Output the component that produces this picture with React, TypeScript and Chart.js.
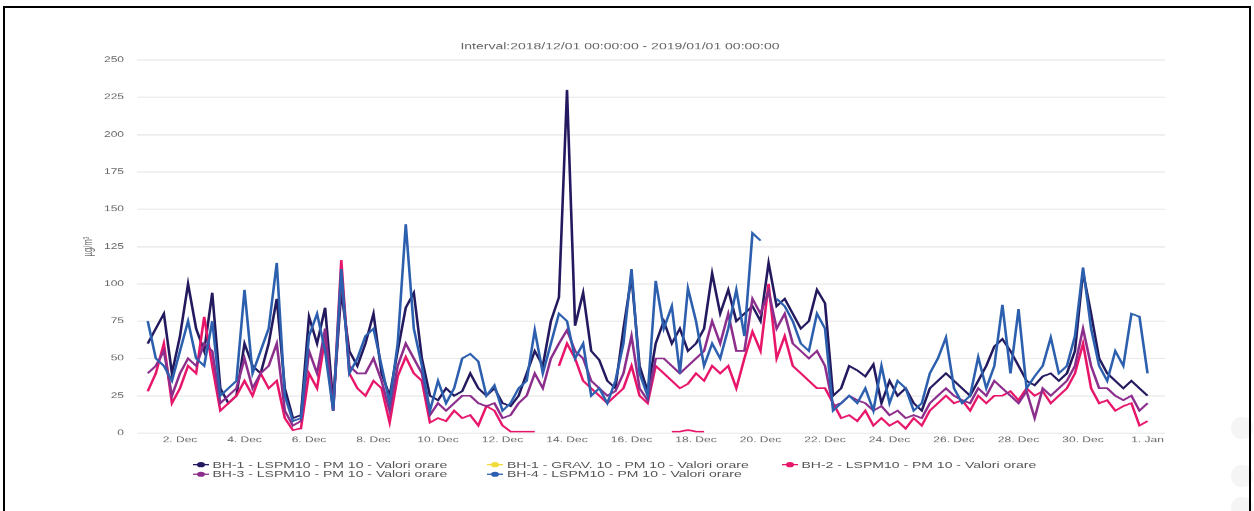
import React, { useEffect, useRef } from "react";
import { Chart, registerables } from "chart.js";

Chart.register(...registerables);

// ---- geometry of the (vertically squashed) picture ----
const SCALE_Y = 0.64;
const VW = 1254;
const VH = 798;

// ---- texts ----
const chartTitle = "Interval:2018/12/01 00:00:00 - 2019/01/01 00:00:00";
const yAxisTitle = "µg/m³";
const seriesNames = [
  "BH-1 - LSPM10 - PM 10 - Valori orare",
  "BH-1 - GRAV. 10 - PM 10 - Valori orare",
  "BH-2 - LSPM10 - PM 10 - Valori orare",
  "BH-3 - LSPM10 - PM 10 - Valori orare",
  "BH-4 - LSPM10 - PM 10 - Valori orare",
];
const seriesColors = ["#22195e", "#f0dc3a", "#e8166a", "#8c2e8c", "#2c5fae"];

// ---- x axis: hours since 2018-12-01 00:00, sampled every 6 hours ----
const hours = Array.from({ length: 125 }, (_, i) => i * 6);
const tickHours = [24, 72, 120, 168, 216, 264, 312, 360, 408, 456, 504, 552, 600, 648, 696, 744];
const tickLabels = [
  "2. Dec", "4. Dec", "6. Dec", "8. Dec", "10. Dec", "12. Dec", "14. Dec", "16. Dec",
  "18. Dec", "20. Dec", "22. Dec", "24. Dec", "26. Dec", "28. Dec", "30. Dec", "1. Jan",
];

// ---- series values (µg/m³) ----
const bh1 = [
  60, 70, 80, 40, 65, 100, 70, 55, 94, 30,
  20, 25, 60, 45, 40, 60, 90, 30, 10, 12,
  78, 60, 84, 20, 95, 55, 45, 60, 80, 40,
  25, 55, 84, 94, 50, 25, 22, 30, 25, 28,
  40, 30, 25, 30, 20, 18, 25, 40, 55, 45,
  75, 91, 230, 72, 94, 55, 49, 35, 30, 70,
  105, 45, 28, 60, 75, 60, 70, 55, 60, 70,
  107, 80, 96, 75, 80, 85, 75, 114, 85, 90,
  80, 70, 75, 96, 87, 25, 30, 45, 42, 38,
  46, 20, 35, 25, 30, 20, 15, 30, 35, 40,
  35, 30, 25, 35, 45, 58, 63, 55, 45, 35,
  32, 38, 40, 35, 40, 55, 108, 80, 50, 40,
  35, 30, 35, 30, 25,
];
const grav: (number | null)[] = [];
const bh2: (number | null)[] = [
  28, 40, 60, 20, 30, 45, 40, 78, 45, 15,
  20, 25, 35, 25, 40, 30, 35, 10, 2, 3,
  40, 30, 64, 15, 116, 40, 30, 25, 35, 30,
  7, 38, 51, 40, 35, 7, 10, 8, 15, 10,
  12, 5, 18, 15, 5, 1, 1, 1, 1, null,
  null, 45, 60, 50, 35, 30, 25, 20, 25, 30,
  45, 25, 20, 45, 40, 35, 30, 33, 40, 35,
  45, 40, 45, 30, 50, 68, 55, 100, 50, 65,
  45, 40, 35, 30, 30, 20, 10, 12, 8, 15,
  5, 10, 5, 8, 3, 10, 5, 15, 20, 25,
  20, 22, 15, 25, 20, 25, 25, 28, 22, 30,
  25, 28, 20, 25, 30, 40, 60, 30, 20, 22,
  15, 18, 20, 5, 8,
];
const bh2ExtraHours = [390, 396, 402, 408, 414];
const bh2ExtraValues = [1, 1, 2, 1, 1];
const bh3 = [
  40, 45, 55, 25, 40, 50, 45, 60, 55, 20,
  25, 30, 50, 30, 40, 45, 60, 15, 5, 8,
  55, 40, 70, 15, 105, 45, 40, 40, 50, 35,
  15, 45, 60, 50, 40, 12, 20, 15, 20, 25,
  25, 20, 18, 20, 10, 12, 20, 25, 40, 30,
  50, 60, 69, 55, 50, 35, 30, 25, 28, 40,
  65, 30, 22, 50, 50, 45, 40, 45, 50, 55,
  75, 60, 80, 55, 55, 90, 80, 95, 70, 80,
  60, 55, 50, 55, 45, 18, 20, 25, 22, 20,
  15, 18, 12, 15, 10, 12, 10, 20, 25, 30,
  25, 22, 20, 30, 25, 35, 30, 25, 20, 28,
  10, 30, 25, 30, 35, 45, 70, 45, 30, 30,
  25, 22, 25, 15, 20,
];
const bh4: (number | null)[] = [
  75, 50, 45, 35, 55, 75, 50, 45, 75, 25,
  30, 35, 96, 40, 55, 70, 114, 25, 8, 10,
  65, 80, 55, 15, 110, 40, 50, 65, 70, 45,
  20, 60, 140, 70, 45, 15, 35, 20, 30, 50,
  53, 48, 25, 32, 15, 20, 30, 35, 69, 40,
  60, 80, 75, 50, 60, 25, 30, 20, 35, 60,
  110, 40, 25, 102, 70, 85, 40, 97, 75, 45,
  60, 50, 70, 96, 65, 134, 129, null, 90, 85,
  75, 60, 55, 80, 70, 15, 20, 25, 20, 30,
  15, 45, 20, 35, 30, 15, 20, 40, 50, 64,
  30, 20, 25, 51, 30, 45, 86, 40, 83, 30,
  38, 45, 64, 40, 45, 65, 111, 70, 45, 35,
  55, 45, 80, 78, 40,
];

const legendRows = [
  [0, 1, 2],
  [3, 4],
];
const legendColX = [192.5, 487, 781.5];
const legendRowY = [726, 741];

const FONT = "'Liberation Sans', Arial, Helvetica, sans-serif";

export default function App() {
  const ref = useRef<HTMLCanvasElement>(null);

  useEffect(() => {
    document.documentElement.style.overflow = "hidden";
    document.body.style.overflow = "hidden";
    Chart.defaults.font.family = FONT;
    const canvas = ref.current;
    if (!canvas) return;
    const toPts = (vals: (number | null)[]) => vals.map((v, i) => ({ x: hours[i], y: v }));
    const extra = bh2ExtraValues.map((v, i) => ({ x: bh2ExtraHours[i], y: v }));
    const mk = (label: string, data: any[], color: string, order: number) => ({
      label,
      data,
      borderColor: color,
      backgroundColor: color,
      borderWidth: 2.6,
      pointRadius: 0,
      pointHoverRadius: 0,
      tension: 0,
      fill: false,
      spanGaps: false,
      order,
    });
    const chart = new Chart(canvas, {
      type: "line",
      data: {
        datasets: [
          mk(seriesNames[0], toPts(bh1), seriesColors[0], 6),
          mk(seriesNames[1], toPts(grav), seriesColors[1], 5),
          mk(seriesNames[2], toPts(bh2), seriesColors[2], 4),
          mk(seriesNames[2], extra, seriesColors[2], 3),
          mk(seriesNames[3], toPts(bh3), seriesColors[3], 2),
          mk(seriesNames[4], toPts(bh4), seriesColors[4], 1),
        ] as any,
      },
      options: {
        animation: false,
        responsive: false,
        devicePixelRatio: 1,
        layout: { padding: { left: 75, right: 89, top: 0, bottom: 101.4 } },
        plugins: {
          legend: { display: false },
          tooltip: { enabled: false },
          title: {
            display: true,
            text: chartTitle,
            color: "#666",
            font: { size: 14, weight: "normal" as any },
            padding: { top: 65, bottom: 12 },
          },
        },
        scales: {
          x: {
            type: "linear",
            min: -8,
            max: 757,
            grid: { display: false, drawTicks: false },
            border: { display: false },
            afterBuildTicks: (s: any) => {
              s.ticks = tickHours.map((v) => ({ value: v }));
            },
            afterFit: (s: any) => {
              s.height = 20;
            },
            ticks: {
              autoSkip: false,
              maxRotation: 0,
              padding: 4,
              color: "#666",
              font: { size: 12 },
              callback: (v: any) => {
                const i = tickHours.indexOf(Number(v));
                return i >= 0 ? tickLabels[i] : "";
              },
            },
          },
          y: {
            min: 0,
            max: 250,
            afterFit: (s: any) => {
              s.width = 62;
            },
            ticks: { stepSize: 25, padding: 13, color: "#666", font: { size: 12 } },
            grid: { color: "#e2e2e2", lineWidth: 1.4, drawTicks: false },
            border: { display: false },
            title: {
              display: true,
              text: yAxisTitle,
              color: "#666",
              font: { size: 12 },
              padding: { top: 6, bottom: 0 },
            },
          },
        },
      } as any,
    });
    return () => chart.destroy();
  }, []);

  return (
    <>
      <div
        style={{
          position: "fixed",
          left: 0,
          top: 0,
          width: VW,
          height: VH,
          transform: `scaleY(${SCALE_Y})`,
          transformOrigin: "0 0",
          background: "#fff",
        }}
      >
        <canvas ref={ref} width={VW} height={VH} style={{ width: VW, height: VH, display: "block" }} />
        {legendRows.map((row, r) =>
          row.map((si, c) => (
            <div
              key={`${r}-${c}`}
              style={{
                position: "absolute",
                left: legendColX[c],
                top: legendRowY[r] - 9,
                height: 18,
                display: "flex",
                alignItems: "center",
                whiteSpace: "nowrap",
                fontFamily: FONT,
                fontSize: 14,
                color: "#555",
              }}
            >
              <div style={{ position: "relative", width: 16, height: 12, marginRight: 4 }}>
                <div
                  style={{
                    position: "absolute",
                    left: 0,
                    top: 5,
                    width: 16,
                    height: 2,
                    background: seriesColors[si],
                  }}
                />
                <div
                  style={{
                    position: "absolute",
                    left: 4,
                    top: 2,
                    width: 8,
                    height: 8,
                    borderRadius: "50%",
                    background: seriesColors[si],
                  }}
                />
              </div>
              <span>{seriesNames[si]}</span>
            </div>
          ))
        )}
      </div>
      {[428, 476, 508].map((cy, i) => (
        <div
          key={i}
          style={{
            position: "fixed",
            left: 1231,
            top: cy - 11,
            width: 22,
            height: 22,
            borderRadius: "50%",
            background: "#f5f5f5",
          }}
        />
      ))}
      <div
        style={{
          position: "fixed",
          left: 3,
          top: 6,
          width: 1248,
          height: 510,
          boxSizing: "border-box",
          borderTop: "2px solid #000",
          borderLeft: "2px solid #000",
          borderRight: "2px solid #000",
          pointerEvents: "none",
        }}
      />
    </>
  );
}
